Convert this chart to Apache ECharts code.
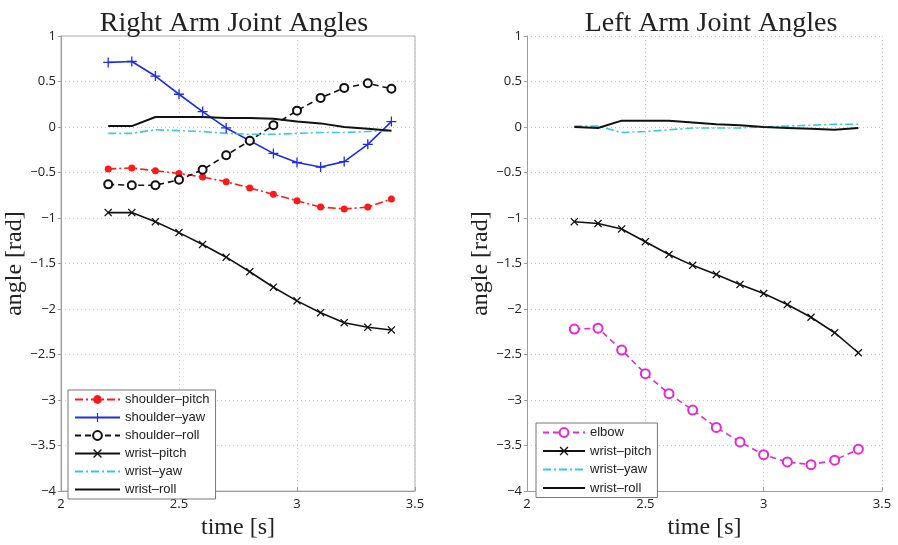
<!DOCTYPE html>
<html>
<head>
<meta charset="utf-8">
<script src="https://cdn.jsdelivr.net/npm/echarts@6/dist/echarts.min.js"></script>
<style>html,body{margin:0;padding:0;background:#fff}#c{width:898px;height:545px}</style>
</head>
<body>
<div id="c"></div>
<script>
// ---- data ----
var times = [2.2, 2.3, 2.4, 2.5, 2.6, 2.7, 2.8, 2.9, 3.0, 3.1, 3.2, 3.3, 3.4];
var xTicks = [2, 2.5, 3, 3.5];
var yTicks = [-4, -3.5, -3, -2.5, -2, -1.5, -1, -0.5, 0, 0.5, 1];

// Right arm
var rShoulderPitch = [-0.46, -0.45, -0.48, -0.51, -0.55, -0.60, -0.67, -0.74, -0.81, -0.88, -0.90, -0.88, -0.79];
var rShoulderYaw   = [0.71, 0.72, 0.56, 0.36, 0.17, -0.01, -0.15, -0.29, -0.39, -0.44, -0.38, -0.19, 0.06];
var rShoulderRoll  = [-0.63, -0.64, -0.64, -0.58, -0.47, -0.31, -0.15, 0.02, 0.18, 0.32, 0.43, 0.48, 0.42];
var rWristPitch    = [-0.94, -0.94, -1.04, -1.16, -1.29, -1.43, -1.59, -1.76, -1.91, -2.04, -2.15, -2.20, -2.23];
var rWristYaw      = [-0.07, -0.07, -0.03, -0.04, -0.05, -0.07, -0.08, -0.08, -0.07, -0.06, -0.06, -0.05, -0.04];
var rWristRoll     = [0.01, 0.01, 0.11, 0.11, 0.11, 0.10, 0.10, 0.09, 0.06, 0.04, 0.00, -0.02, -0.04];

// Left arm
var lElbow      = [-2.22, -2.21, -2.45, -2.71, -2.93, -3.11, -3.30, -3.46, -3.60, -3.68, -3.71, -3.66, -3.54];
var lWristPitch = [-1.04, -1.06, -1.12, -1.26, -1.40, -1.52, -1.62, -1.73, -1.83, -1.95, -2.09, -2.26, -2.48];
var lWristYaw   = [0.01, 0.01, -0.06, -0.05, -0.03, -0.01, -0.01, -0.01, 0.00, 0.01, 0.02, 0.03, 0.03];
var lWristRoll  = [0.00, -0.01, 0.07, 0.07, 0.07, 0.05, 0.03, 0.02, 0.00, -0.01, -0.02, -0.03, -0.01];

var rightNames = ['shoulder-pitch', 'shoulder-yaw', 'shoulder-roll', 'wrist-pitch', 'wrist-yaw', 'wrist-roll'];
var leftNames  = ['elbow', 'wrist-pitch', 'wrist-yaw', 'wrist-roll'];

// ---- build ----
function pairs(vals) { return times.map(function (t, i) { return [t, vals[i]]; }); }
function fmt(v) { return String(v).replace('-', '\u2212'); }

var PLUS = 'path://M-1,-0.13L-0.13,-0.13L-0.13,-1L0.13,-1L0.13,-0.13L1,-0.13L1,0.13L0.13,0.13L0.13,1L-0.13,1L-0.13,0.13L-1,0.13Z';
var CROSS = 'path://M-1,-0.78L-0.78,-1L0,-0.22L0.78,-1L1,-0.78L0.22,0L1,0.78L0.78,1L0,0.22L-0.78,1L-1,0.78L-0.22,0Z';

var RED = '#ff1a1a', BLUE = '#1f2de6', BLACK = '#111111', CYAN = '#3cc8dc', MAG = '#e22ad2';
var dashDot = [8, 3, 2, 3], dash = [6, 4];

function line(name, vals, idx, color, type, symbol, size, width) {
  var empty = symbol === 'emptyCircle';
  return {
    name: name, type: 'line', xAxisIndex: idx, yAxisIndex: idx,
    data: pairs(vals),
    symbol: symbol || 'circle', symbolSize: symbol ? size : 1, showSymbol: !!symbol,
    lineStyle: { color: color, width: width || 1.6, type: type || 'solid' },
    itemStyle: symbol
      ? { color: color, borderColor: color, borderWidth: empty ? 1.5 : 0 }
      : { color: 'rgba(0,0,0,0)', borderColor: 'rgba(0,0,0,0)', borderWidth: 0 },
    emphasis: { disabled: true },
    animation: false
  };
}

var axisLabelStyle = { fontFamily: 'Open Sans', fontSize: 13, color: '#222' };
var gridLine = { show: true, lineStyle: { color: '#c9c9c0', type: [1, 3], width: 1 } };

function xAx(idx) {
  return {
    type: 'value', gridIndex: idx, min: 2, max: 3.5, interval: 0.5,
    axisLine: { show: true, onZero: false, lineStyle: { color: '#9a9ea2' } },
    axisTick: { show: true, inside: true, length: 4, lineStyle: { color: '#9a9ea2' } },
    axisLabel: Object.assign({ margin: 7, formatter: fmt }, axisLabelStyle),
    splitLine: gridLine,
    name: 'time [s]', nameLocation: 'middle', nameGap: 20,
    nameTextStyle: { fontFamily: 'Liberation Serif', fontSize: 24, color: '#222' }
  };
}
function yAx(idx, gap) {
  return {
    type: 'value', gridIndex: idx, min: -4, max: 1, interval: 0.5,
    axisLine: { show: true, onZero: false, lineStyle: { color: '#9a9ea2' } },
    axisTick: { show: true, inside: false, length: 3, lineStyle: { color: '#9a9ea2' } },
    axisLabel: Object.assign({ margin: 5, formatter: fmt }, axisLabelStyle),
    splitLine: gridLine,
    name: 'angle [rad]', nameLocation: 'middle', nameGap: gap,
    nameTextStyle: { fontFamily: 'Liberation Serif', fontSize: 24, color: '#222' }
  };
}

var legendText = { fontFamily: 'Liberation Sans', fontSize: 13, color: '#222' };
function legendFmt(n) { return n.replace('-', '\u2013'); }

var option = {
  backgroundColor: '#fff',
  animation: false,
  title: [
    { text: 'Right Arm Joint Angles', left: 229, top: 5, textAlign: 'center',
      textStyle: { fontFamily: 'Liberation Serif', fontSize: 28, fontWeight: 'normal', color: '#222' } },
    { text: 'Left Arm Joint Angles', left: 706, top: 5, textAlign: 'center',
      textStyle: { fontFamily: 'Liberation Serif', fontSize: 28, fontWeight: 'normal', color: '#222' } }
  ],
  grid: [
    { left: 61, right: 483, top: 36, bottom: 42, show: true, borderColor: '#a9acb0', borderWidth: 1, backgroundColor: 'transparent' },
    { left: 527, right: 16, top: 36, bottom: 42 }
  ],
  xAxis: [xAx(0), xAx(1)],
  yAxis: [yAx(0, 28), yAx(1, 27)],
  legend: [
    { data: rightNames, orient: 'vertical', left: 68, top: 390, itemWidth: 45, itemHeight: 11, itemGap: 5,
      padding: [3, 6, 3, 6], borderColor: '#777', borderWidth: 1, backgroundColor: '#fff',
      textStyle: legendText, formatter: legendFmt, selectedMode: false },
    { data: leftNames, orient: 'vertical', left: 536, top: 423, itemWidth: 42, itemHeight: 11, itemGap: 5.5,
      padding: [3, 6, 3, 6], borderColor: '#777', borderWidth: 1, backgroundColor: '#fff',
      textStyle: legendText, formatter: legendFmt, selectedMode: false }
  ],
  series: [
    line('shoulder-pitch', rShoulderPitch, 0, RED, dashDot, 'circle', 7),
    line('shoulder-yaw', rShoulderYaw, 0, BLUE, 'solid', PLUS, 10),
    line('shoulder-roll', rShoulderRoll, 0, BLACK, dash, 'emptyCircle', 8),
    line('wrist-pitch', rWristPitch, 0, BLACK, 'solid', CROSS, 8),
    line('wrist-yaw', rWristYaw, 0, CYAN, dashDot),
    line('wrist-roll', rWristRoll, 0, BLACK, 'solid', null, null, 2),
    line('elbow', lElbow, 1, MAG, dash, 'emptyCircle', 9),
    line('wrist-pitch', lWristPitch, 1, BLACK, 'solid', CROSS, 8),
    line('wrist-yaw', lWristYaw, 1, CYAN, dashDot),
    line('wrist-roll', lWristRoll, 1, BLACK, 'solid', null, null, 2)
  ]
};

var chart = echarts.init(document.getElementById('c'), null, { renderer: 'canvas' });
chart.setOption(option);
</script>
</body>
</html>
